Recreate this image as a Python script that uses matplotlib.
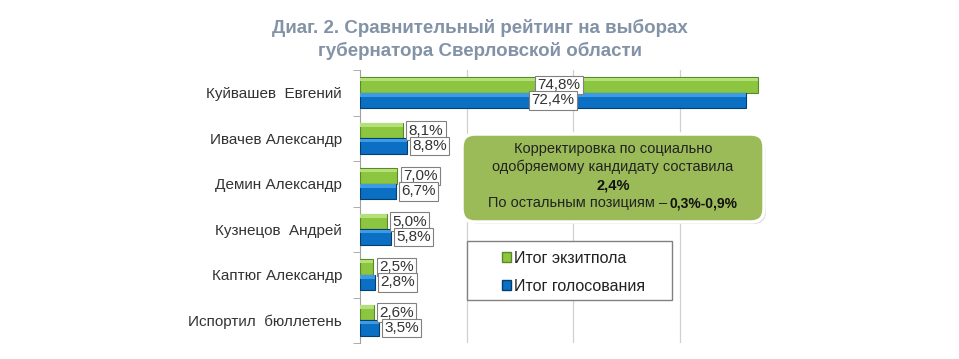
import matplotlib
matplotlib.use("Agg")
import matplotlib.pyplot as plt
import numpy as np
from matplotlib.patches import FancyBboxPatch, Patch, Rectangle

plt.rcParams['font.family'] = ['Liberation Sans', 'DejaVu Sans']

candidates = ["Куйвашев  Евгений", "Ивачев Александр", "Демин Александр",
              "Кузнецов  Андрей", "Каптюг Александр", "Испортил  бюллетень"]
exitpoll = [74.8, 8.1, 7.0, 5.0, 2.5, 2.6]
official = [72.4, 8.8, 6.7, 5.8, 2.8, 3.5]
series_names = ["Итог экзитпола", "Итог голосования"]

W, H = 959, 359
fig = plt.figure(figsize=(W / 100, H / 100), dpi=100)
fig.patch.set_facecolor("white")

# main axes: pixels 360..786 horizontally, 70..343 vertically
ax = fig.add_axes([360 / W, 1 - 343 / H, 426 / W, 273 / H])
y = np.arange(len(candidates))
h = 0.34
green, green_edge, green_hi = "#8CC540", "#5B8A25", "#B4E07A"
blue, blue_edge, blue_hi = "#0B6FC4", "#04406F", "#3D9BE6"
ax.barh(y - h / 2, exitpoll, height=h, color=green, edgecolor=green_edge, linewidth=0.8, zorder=3)
ax.barh(y + h / 2, official, height=h, color=blue, edgecolor=blue_edge, linewidth=0.8, zorder=3)
# lighter top strip to hint at the 3D bevel
ax.barh(y - h + 0.05, exitpoll, height=0.07, color=green_hi, linewidth=0, zorder=4)
ax.barh(y + 0.05, official, height=0.07, color=blue_hi, linewidth=0, zorder=4)

ax.set_xlim(0, 80)
ax.set_ylim(len(candidates) - 0.5, -0.5)
ax.set_xticks([20, 40, 60])
ax.grid(axis="x", color="#D0D0D0", linewidth=0.9, zorder=0)
ax.tick_params(axis="x", length=0, labelbottom=False)
ax.set_yticks(y)
ax.set_yticklabels(candidates, fontsize=11, color="#333333")
ax.tick_params(axis="y", length=0, pad=13)
ax.set_yticks(np.arange(len(candidates) + 1) - 0.5, minor=True)
ax.tick_params(axis="y", which="minor", length=5, color="#A0A0A0")
for s in ["top", "right", "bottom"]:
    ax.spines[s].set_visible(False)
ax.spines["left"].set_color("#A0A0A0")

box = dict(boxstyle="square,pad=0.15", fc="white", ec="#808080", lw=0.8)
for vals, off in [(exitpoll, -h / 2), (official, h / 2)]:
    for i, v in enumerate(vals):
        txt = f"{v:.1f}%".replace(".", ",")
        if i == 0:
            ax.text(v / 2, i + off, txt, ha="center", va="center", fontsize=11,
                    color="#333333", bbox=box, zorder=5)
        else:
            ax.annotate(txt, (v, i + off), xytext=(4, 0), textcoords="offset points",
                        ha="left", va="center", fontsize=11, color="#333333",
                        bbox=box, zorder=5)

# overlay in pixel coordinates for title, note and legend
ov = fig.add_axes([0, 0, 1, 1], facecolor="none")
ov.set_xlim(0, W)
ov.set_ylim(H, 0)
ov.axis("off")

ov.text(480, 28, "Диаг. 2. Сравнительный рейтинг на выборах", ha="center", va="center",
        fontsize=13.5, fontweight="bold", color="#8393A7")
ov.text(480, 51, "губернатора Сверловской области", ha="center", va="center",
        fontsize=13.5, fontweight="bold", color="#8393A7")

shadow = FancyBboxPatch((466, 138), 300, 86, boxstyle="round,pad=0,rounding_size=13",
                        fc="#BBBBBB", ec="none", alpha=0.6, zorder=1)
note = FancyBboxPatch((462, 134), 302, 88, boxstyle="round,pad=0,rounding_size=13",
                      fc="#9BBB59", ec="white", lw=2.5, zorder=2)
ov.add_patch(shadow)
ov.add_patch(note)
ov.text(613, 149, "Корректировка по социально", ha="center", va="center", fontsize=10.5, color="#222222", zorder=3)
ov.text(613, 167, "одобряемому кандидату составила", ha="center", va="center", fontsize=10.5, color="#222222", zorder=3)
ov.text(613, 185, "2,4%", ha="center", va="center", fontsize=10.5, fontweight="bold", color="#111111", zorder=3)
ov.text(667, 203, "По остальным позициям –", ha="right", va="center", fontsize=10.5, color="#222222", zorder=3)
ov.text(670, 203, "0,3%-0,9%", ha="left", va="center", fontsize=10, fontweight="bold", color="#111111", zorder=3)

# legend frame + entries
ov.add_patch(Rectangle((467, 241), 205, 59, fc="white", ec="#808080", lw=1, zorder=2))
handles = [Patch(facecolor=green, edgecolor=green_edge), Patch(facecolor=blue, edgecolor=blue_edge)]
leg = fig.legend(handles, series_names, loc="upper left",
                 bbox_to_anchor=(497 / W, 1 - 246 / H),
                 fontsize=11.5, frameon=False, handlelength=0.55, handleheight=0.55,
                 handletextpad=0.2, labelspacing=0.8, borderpad=0.3, borderaxespad=0)
leg.set_zorder(4)
for t in leg.get_texts():
    t.set_color("#222222")

fig.savefig("out.png", dpi=100)
